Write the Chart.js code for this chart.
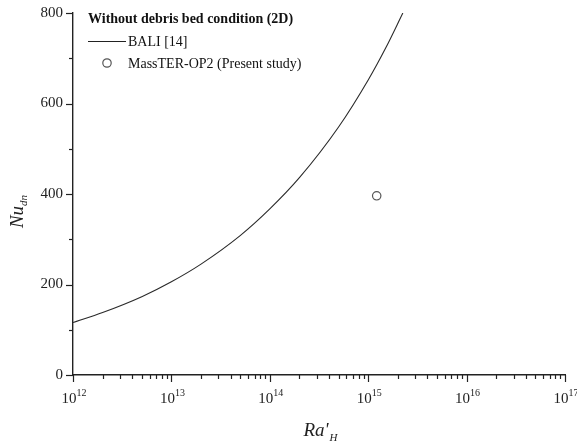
<!DOCTYPE html>
<html><head><meta charset="utf-8">
<script src="https://cdn.jsdelivr.net/npm/chart.js@4.4.1/dist/chart.umd.min.js"></script>
<style>html,body{margin:0;padding:0;background:#fff}canvas{display:block}</style>
</head><body>
<canvas id="c" width="577" height="443"></canvas>
<script>
// Data
const baliRa = [1e12, 2e12, 5e12, 1e13, 2e13, 5e13, 1e14, 2e14, 5e14, 1e15, 1.5e15, 2.25e15];
const baliNu = [116, 138, 173, 206, 245, 308, 367, 436, 548, 652, 722, 800];
const presentRa = [1.22e15];
const presentNu = [396];
const xDecades = [12, 13, 14, 15, 16, 17];
const yTicks = [0, 200, 400, 600, 800];
const titleText = 'Without debris bed condition (2D)';
const legendLabels = ['BALI [14]', 'MassTER-OP2 (Present study)'];

const SERIF = '"Liberation Serif", "Times New Roman", serif';

const decor = {
  id: 'decor',
  afterDraw(chart) {
    const ctx = chart.ctx, xs = chart.scales.x, ys = chart.scales.y, a = chart.chartArea;
    ctx.save();
    ctx.strokeStyle = '#222'; ctx.lineWidth = 1.2; ctx.fillStyle = '#222';
    // x ticks
    for (let d = xDecades[0]; d < xDecades[xDecades.length - 1]; d++) {
      for (let m = 1; m <= 9; m++) {
        const px = Math.round(xs.getPixelForValue(m * Math.pow(10, d))) + 0.5;
        ctx.beginPath(); ctx.moveTo(px, a.bottom); ctx.lineTo(px, a.bottom + (m === 1 ? 7 : 4)); ctx.stroke();
      }
    }
    const lastPx = Math.round(xs.getPixelForValue(Math.pow(10, xDecades[xDecades.length - 1]))) + 0.5;
    ctx.beginPath(); ctx.moveTo(lastPx, a.bottom); ctx.lineTo(lastPx, a.bottom + 7); ctx.stroke();
    // x labels
    xDecades.forEach(d => {
      const px = xs.getPixelForValue(Math.pow(10, d));
      ctx.font = '15px ' + SERIF;
      const w1 = ctx.measureText('10').width;
      ctx.font = '10px ' + SERIF;
      const w2 = ctx.measureText(String(d)).width;
      const x0 = px - (w1 + w2) / 2 + 1;
      ctx.textBaseline = 'alphabetic'; ctx.textAlign = 'left';
      ctx.font = '15px ' + SERIF; ctx.fillText('10', x0, a.bottom + 28);
      ctx.font = '10px ' + SERIF; ctx.fillText(String(d), x0 + w1, a.bottom + 21);
    });
    // y ticks
    for (let v = 0; v <= 800; v += 100) {
      const py = Math.round(ys.getPixelForValue(v)) + 0.5;
      const major = yTicks.includes(v);
      ctx.beginPath(); ctx.moveTo(a.left, py); ctx.lineTo(a.left - (major ? 7 : 4), py); ctx.stroke();
    }
    ctx.font = '15px ' + SERIF; ctx.textAlign = 'right'; ctx.textBaseline = 'middle';
    yTicks.forEach(v => ctx.fillText(String(v), a.left - 10, ys.getPixelForValue(v)));
    // axis titles
    ctx.textAlign = 'left'; ctx.textBaseline = 'alphabetic';
    ctx.font = 'italic 19px ' + SERIF;
    const raW = ctx.measureText("Ra'").width;
    const cx = (a.left + a.right) / 2 + 1;
    ctx.fillText("Ra'", cx - raW / 2 - 4, 436);
    ctx.font = 'italic 11px ' + SERIF;
    ctx.fillText('H', cx + raW / 2 - 3, 441);
    ctx.save();
    ctx.translate(23, 211);
    ctx.rotate(-Math.PI / 2);
    ctx.font = 'italic 19px ' + SERIF;
    const nuW = ctx.measureText('Nu').width;
    ctx.fillText('Nu', -nuW / 2 - 6, 0);
    ctx.font = 'italic 11px ' + SERIF;
    ctx.fillText('dn', nuW / 2 - 6, 4);
    ctx.restore();
    // title + legend
    ctx.fillStyle = '#111';
    ctx.font = 'bold 14px ' + SERIF; ctx.textBaseline = 'middle';
    ctx.fillText(titleText, 88, 19);
    ctx.font = '14px ' + SERIF;
    ctx.strokeStyle = '#222'; ctx.lineWidth = 1;
    ctx.beginPath(); ctx.moveTo(88, 41.5); ctx.lineTo(126, 41.5); ctx.stroke();
    ctx.fillText(legendLabels[0], 128, 42);
    ctx.strokeStyle = '#555'; ctx.lineWidth = 1.2;
    ctx.beginPath(); ctx.arc(107, 63, 4.2, 0, Math.PI * 2); ctx.stroke();
    ctx.fillText(legendLabels[1], 128, 64);
    ctx.restore();
  }
};

new Chart(document.getElementById('c'), {
  type: 'scatter',
  data: {
    datasets: [
      {
        label: legendLabels[0],
        data: baliRa.map((r, i) => ({ x: r, y: baliNu[i] })),
        showLine: true, borderColor: '#2a2a2a', borderWidth: 1.1, pointRadius: 0,
        cubicInterpolationMode: 'monotone', fill: false
      },
      {
        label: legendLabels[1],
        data: presentRa.map((r, i) => ({ x: r, y: presentNu[i] })),
        showLine: false, pointRadius: 4.2, pointBorderColor: '#555', pointBorderWidth: 1.2,
        pointBackgroundColor: '#fff'
      }
    ]
  },
  options: {
    responsive: false, animation: false, devicePixelRatio: 1,
    layout: { padding: { left: 0, right: 12, top: 13, bottom: 0 } },
    plugins: { legend: { display: false }, tooltip: { enabled: false } },
    scales: {
      x: {
        type: 'logarithmic', min: 1e12, max: 1e17,
        grid: { display: false, drawTicks: false },
        border: { display: true, color: '#222', width: 1.4 },
        ticks: { display: false },
        afterFit(s) { s.height = 68; }
      },
      y: {
        min: 0, max: 800,
        grid: { display: false, drawTicks: false },
        border: { display: true, color: '#222', width: 1.4 },
        ticks: { display: false, stepSize: 200 },
        afterFit(s) { s.width = 73; }
      }
    }
  },
  plugins: [decor]
});
</script>
</body></html>
